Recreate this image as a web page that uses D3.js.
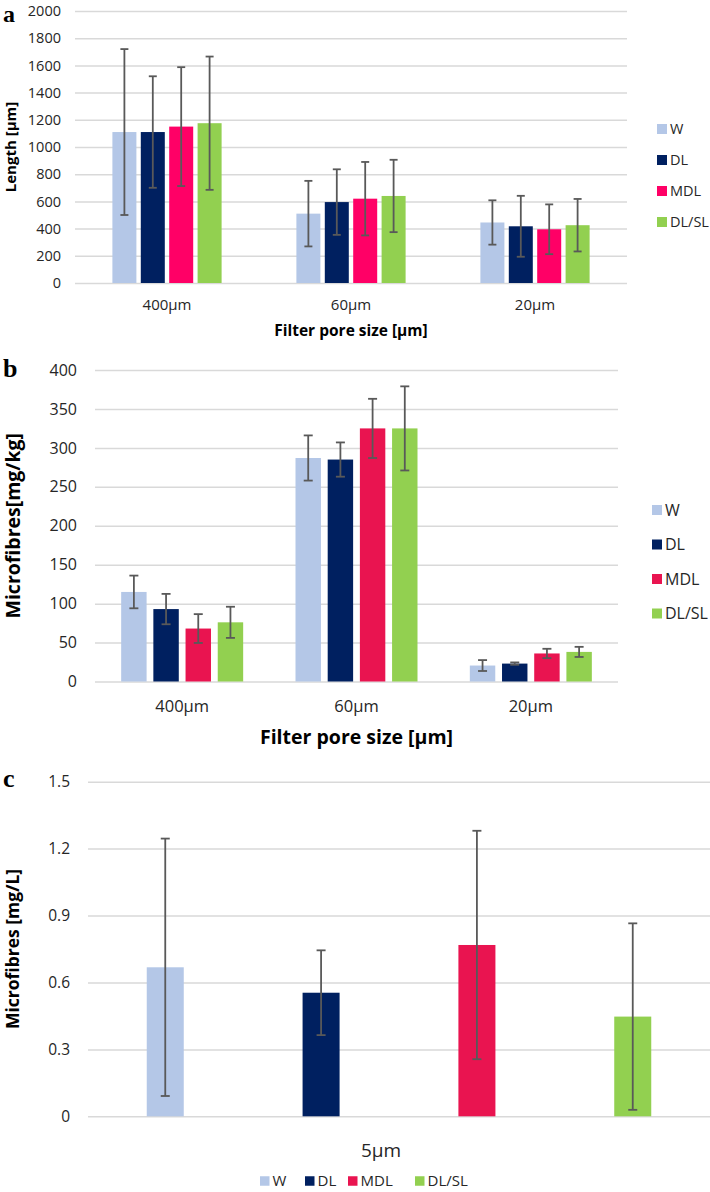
<!DOCTYPE html>
<html><head><meta charset="utf-8">
<script src="https://cdn.jsdelivr.net/npm/d3@7"></script>
<style>body{margin:0;background:#fff}svg{display:block}</style>
</head><body><svg id="chart" width="710" height="1192"></svg>
<script>
// ---------- data ----------
const series = ["W", "DL", "MDL", "DL/SL"];
const colorsA = ["#b4c7e7", "#002060", "#ff0066", "#92d050"];
const colorsBC = ["#b4c7e7", "#002060", "#e91450", "#92d050"];

const poreCats = ["400µm", "60µm", "20µm"];

// panel a: fibre length [µm], rows = pore size, cols = series
const lengthMean = [[1110, 1110, 1150, 1175], [510, 595, 620, 640], [445, 417, 395, 425]];
const lengthErr  = [[610, 410, 437, 490], [241, 241, 270, 266], [163, 224, 183, 193]];
const lengthTicks = [0, 200, 400, 600, 800, 1000, 1200, 1400, 1600, 1800, 2000];

// panel b: microfibres [mg/kg]
const massMean = [[115, 93, 68, 76], [287, 285, 325, 325], [20.5, 23, 36, 38]];
const massErr  = [[21, 19.5, 18.5, 20], [29, 22, 38, 54], [7, 1.5, 6, 6.5]];
const massTicks = [0, 50, 100, 150, 200, 250, 300, 350, 400];

// panel c: microfibres [mg/L] at 5µm
const waterCats = ["5µm"];
const waterMean = [[0.668, 0.554, 0.768, 0.447]];
const waterErr  = [[0.577, 0.19, 0.512, 0.418]];
const waterTicks = [0, 0.3, 0.6, 0.9, 1.2, 1.5];

// ---------- drawing ----------
const svg = d3.select("#chart");
const FONT = "'Open Sans', sans-serif";

function panel(o) {
  const g = svg.append("g");
  const y = d3.scaleLinear().domain([0, o.max]).range([o.yZero, o.yTop]);
  const x = d3.scaleBand().domain(o.cats).range([o.x0, o.x1]);
  const xs = d3.scaleBand().domain(series).range(o.innerRange)
    .paddingInner(o.padInner).paddingOuter(o.padOuter || 0);

  // gridlines
  const grid = g.append("g").attr("transform", `translate(${o.x0},0)`)
    .call(d3.axisLeft(y).tickValues(o.ticks).tickSize(-(o.x1 - o.x0)).tickFormat(""));
  grid.select(".domain").remove();
  grid.selectAll("line").attr("stroke", "#d9d9d9").attr("stroke-width", 1.5);

  // y tick labels
  const ya = g.append("g").attr("transform", `translate(${o.tickEnd},0)`)
    .call(d3.axisLeft(y).tickValues(o.ticks).tickSize(0).tickPadding(0).tickFormat(o.fmt));
  ya.select(".domain").remove();
  ya.selectAll("text").attr("font-family", FONT).attr("font-size", o.tickFont).attr("fill", "#262626");

  // bars
  const rows = [];
  o.cats.forEach((c, ci) => series.forEach((s, si) =>
    rows.push({c, s, si, v: o.means[ci][si], e: o.errs[ci][si]})));
  const cx = d => x(d.c) + x.bandwidth() / 2 + xs(d.s);
  g.selectAll("rect.bar").data(rows).join("rect").attr("class", "bar")
    .attr("x", cx).attr("width", xs.bandwidth())
    .attr("y", d => y(d.v)).attr("height", d => y(0) - y(d.v))
    .attr("fill", d => o.colors[d.si]);

  // error bars
  const eb = g.selectAll("g.err").data(rows).join("g").attr("class", "err")
    .attr("stroke", "#595959").attr("stroke-width", 1.8);
  const mid = d => cx(d) + xs.bandwidth() / 2;
  eb.append("line").attr("x1", mid).attr("x2", mid)
    .attr("y1", d => y(d.v + d.e)).attr("y2", d => y(Math.max(0, d.v - d.e)));
  eb.append("line").attr("x1", d => mid(d) - o.cap).attr("x2", d => mid(d) + o.cap)
    .attr("y1", d => y(d.v + d.e)).attr("y2", d => y(d.v + d.e));
  eb.append("line").attr("x1", d => mid(d) - o.cap).attr("x2", d => mid(d) + o.cap)
    .attr("y1", d => y(Math.max(0, d.v - d.e))).attr("y2", d => y(Math.max(0, d.v - d.e)));

  // category labels
  const xa = g.append("g").attr("transform", `translate(${o.catDx || 0},${o.catY})`)
    .call(d3.axisBottom(x).tickSize(0).tickPadding(0));
  xa.select(".domain").remove();
  xa.selectAll("text").attr("font-family", FONT).attr("font-size", o.catFont)
    .attr("fill", "#262626").attr("dy", "0.35em");

  // x title
  if (o.title) {
    g.append("text").attr("x", o.titleX).attr("y", o.titleY).attr("dy", "0.35em")
      .attr("text-anchor", "middle").attr("font-family", FONT).attr("font-weight", "bold")
      .attr("font-size", o.titleFont).attr("fill", "#000").text(o.title);
  }
  // y title
  g.append("text").attr("transform", `translate(${o.ylabX},${(o.yZero + o.yTop) / 2}) rotate(-90)`)
    .attr("dy", "0.35em").attr("text-anchor", "middle").attr("font-family", FONT)
    .attr("font-weight", "bold").attr("font-size", o.ylabFont).attr("fill", "#000").text(o.ylab);
  // panel letter
  g.append("text").attr("x", 3).attr("y", o.letterY).attr("font-family", "'Liberation Serif', serif")
    .attr("font-weight", "bold").attr("font-size", o.letterFont || 26).attr("fill", "#000").text(o.letter);

  // legend
  const L = o.legend;
  const li = g.selectAll("g.leg").data(series).join("g").attr("class", "leg")
    .attr("transform", (s, i) => L.vertical
      ? `translate(${L.x},${L.y + i * L.step})`
      : `translate(${L.xs[i]},${L.y})`);
  li.append("rect").attr("x", 0).attr("y", -L.sq / 2).attr("width", L.sq).attr("height", L.sq)
    .attr("fill", (s, i) => o.colors[i]);
  li.append("text").attr("x", L.sq + 3).attr("dy", "0.35em").attr("font-family", FONT)
    .attr("font-size", L.font).attr("fill", "#262626").text(s => s);
}

panel({
  letter: "a", letterY: 22, letterFont: 24,
  cats: poreCats, means: lengthMean, errs: lengthErr, colors: colorsA,
  max: 2000, ticks: lengthTicks, fmt: d3.format("d"), tickFont: 14.5, tickEnd: 61,
  x0: 75, x1: 627, yZero: 283, yTop: 11,
  innerRange: [-54.6, 54.6], padInner: 0.155, cap: 4,
  catY: 305, catFont: 15,
  title: "Filter pore size [µm]", titleX: 351, titleY: 331, titleFont: 15.5,
  ylab: "Length [µm]", ylabX: 11, ylabFont: 15,
  legend: {vertical: true, x: 657, y: 129, step: 31, sq: 10, font: 14.5}
});

panel({
  letter: "b", letterY: 377,
  cats: poreCats, means: massMean, errs: massErr, colors: colorsBC,
  max: 400, ticks: massTicks, fmt: d3.format("d"), tickFont: 16, tickEnd: 77,
  x0: 95, x1: 618, yZero: 681.5, yTop: 370,
  innerRange: [-61, 61], padInner: 0.21, cap: 4.5,
  catY: 706, catFont: 16.5,
  title: "Filter pore size [µm]", titleX: 356.5, titleY: 737, titleFont: 19.5,
  ylab: "Microfibres[mg/kg]", ylabX: 13, ylabFont: 19.5,
  legend: {vertical: true, x: 652, y: 510, step: 34.5, sq: 10, font: 16}
});

panel({
  letter: "c", letterY: 787,
  cats: waterCats, means: waterMean, errs: waterErr, colors: colorsBC,
  max: 1.5, ticks: waterTicks, fmt: d => d === 0 ? "0" : d3.format(".1f")(d), tickFont: 15.5, tickEnd: 70,
  x0: 88, x1: 710, yZero: 1116.3, yTop: 781.7,
  innerRange: [-311, 311], padInner: 0.7625, padOuter: 0.377, cap: 4.5,
  catY: 1150, catFont: 19, catDx: -18,
  title: null,
  ylab: "Microfibres [mg/L]", ylabX: 13, ylabFont: 17.5,
  legend: {vertical: false, xs: [260, 305, 348, 415], y: 1181, sq: 9.5, font: 15}
});
</script></body></html>
